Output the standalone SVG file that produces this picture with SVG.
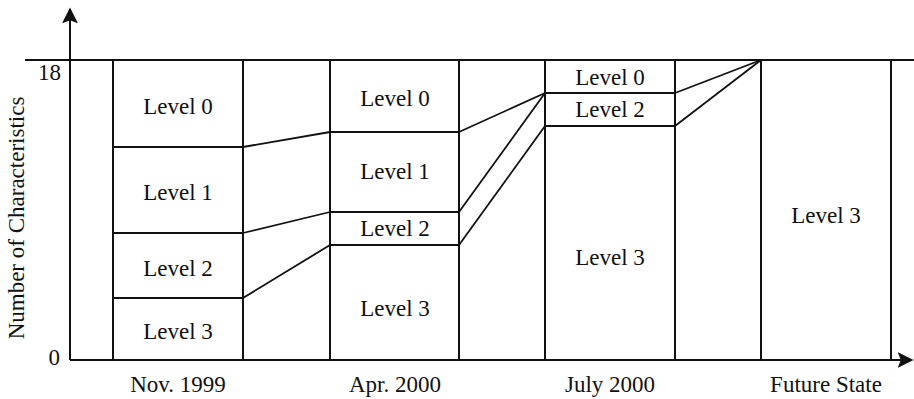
<svg xmlns="http://www.w3.org/2000/svg" width="914" height="399" viewBox="0 0 914 399">
<style>
text{font-family:"Liberation Serif","Times New Roman",serif;font-size:23px;fill:#111;}
.c{text-anchor:middle;}
.bar{fill:#fff;stroke:#111;stroke-width:2;}
.div{stroke:#111;stroke-width:1.8;fill:none;}
.ax{stroke:#111;stroke-width:2;fill:none;}
</style>
<defs>
<marker id="ah" viewBox="0 0 10 10" refX="9" refY="5" markerWidth="16" markerHeight="16" markerUnits="userSpaceOnUse" orient="auto">
<path d="M0,0 L10,5 L0,10 L2,5 Z" fill="#111"/>
</marker>
</defs>
<rect width="914" height="399" fill="#fff"/>
<g id="axes">
<line class="ax" x1="70" y1="360" x2="70" y2="9" marker-end="url(#ah)"/>
<line class="ax" x1="70" y1="360" x2="912" y2="360" marker-end="url(#ah)"/>
<line x1="25" y1="60" x2="914" y2="60" stroke="#111" stroke-width="2.2"/>
<text x="61" y="80" text-anchor="end">18</text>
<text x="60" y="365" text-anchor="end">0</text>
<text class="c" transform="translate(24,218) rotate(-90)">Number of Characteristics</text>
<text class="c" x="178" y="392">Nov. 1999</text>
<text class="c" x="395" y="392">Apr. 2000</text>
<text class="c" x="610" y="392">July 2000</text>
<text class="c" x="826" y="392">Future State</text>
</g>
<g id="bar-nov1999">
<rect class="bar" x="113" y="60" width="130" height="300"/>
<line class="div" x1="113" y1="147" x2="243" y2="147"/>
<line class="div" x1="113" y1="233" x2="243" y2="233"/>
<line class="div" x1="113" y1="298" x2="243" y2="298"/>
<text class="c" x="178" y="114">Level 0</text>
<text class="c" x="178" y="200">Level 1</text>
<text class="c" x="178" y="276">Level 2</text>
<text class="c" x="178" y="339">Level 3</text>
</g>
<g id="bar-apr2000">
<rect class="bar" x="330" y="60" width="129" height="300"/>
<line class="div" x1="330" y1="132" x2="459" y2="132"/>
<line class="div" x1="330" y1="212" x2="459" y2="212"/>
<line class="div" x1="330" y1="245" x2="459" y2="245"/>
<text class="c" x="395" y="106">Level 0</text>
<text class="c" x="395" y="179">Level 1</text>
<text class="c" x="395" y="236">Level 2</text>
<text class="c" x="395" y="316">Level 3</text>
</g>
<g id="bar-jul2000">
<rect class="bar" x="545" y="60" width="130" height="300"/>
<line class="div" x1="545" y1="93" x2="675" y2="93"/>
<line class="div" x1="545" y1="126" x2="675" y2="126"/>
<text class="c" x="610" y="85">Level 0</text>
<text class="c" x="610" y="117">Level 2</text>
<text class="c" x="610" y="265">Level 3</text>
</g>
<g id="bar-future">
<rect class="bar" x="761" y="60" width="130" height="300"/>
<text class="c" x="826" y="223">Level 3</text>
</g>
<g id="connectors" class="div">
<line x1="243" y1="147" x2="330" y2="132"/>
<line x1="243" y1="233" x2="330" y2="212"/>
<line x1="243" y1="298" x2="330" y2="245"/>
<line x1="459" y1="132" x2="545" y2="93"/>
<line x1="459" y1="212" x2="545" y2="93"/>
<line x1="459" y1="245" x2="545" y2="126"/>
<line x1="675" y1="93" x2="761" y2="60"/>
<line x1="675" y1="126" x2="761" y2="60"/>
</g>
</svg>
